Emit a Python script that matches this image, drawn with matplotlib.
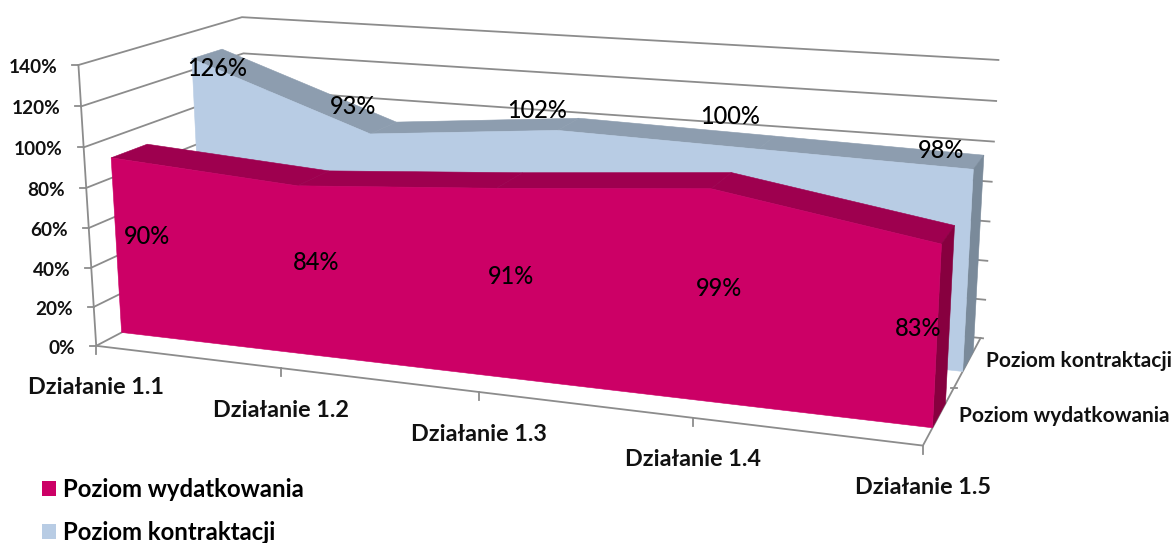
"""
Excel-style 3D area chart: two series one behind the other, drawn on a plain
2D axes through a projective camera fitted to the corners of the plot box.
"""
import matplotlib
matplotlib.use("Agg")
import matplotlib.pyplot as plt
import numpy as np
from matplotlib.patches import Patch, Polygon

plt.rcParams["font.family"] = ["Lato", "DejaVu Sans"]

CATEGORIES = ["Działanie 1.1", "Działanie 1.2", "Działanie 1.3", "Działanie 1.4", "Działanie 1.5"]
SERIES_NAMES = ["Poziom wydatkowania", "Poziom kontraktacji"]
WYDATKOWANIE = [90, 84, 91, 99, 83]
KONTRAKTACJA = [126, 93, 102, 100, 98]
VALUE_TICKS = [0, 20, 40, 60, 80, 100, 120, 140]

# label anchors in figure pixels, Excel places them freely
RED_LABEL_XY = [(147, 236), (316, 262), (511, 276), (719, 288), (918, 329)]
BLUE_LABEL_XY = [(217, 68), (353, 107), (537, 111), (730, 116), (941, 151)]

RED = {"front": "#CC0066", "top": "#9E004F", "side": "#87003F"}
BLUE = {"front": "#B8CCE4", "top": "#8D9DAF", "side": "#7A8A9A"}
GRID = "#8C8C8C"

# camera: (x 0..1, value, depth 0..1) -> pixel
ANCHORS = [
    ((0, 0, 0), (95, 343)),
    ((0, 140, 0), (79, 66)),
    ((0, 120, 0), (82, 107)),
    ((0, 140, 1), (241, 16)),
    ((0, 120, 1), (243, 52)),
    ((0, 0, 1), (254, 267)),
    ((1, 140, 1), (996, 61)),
    ((1, 0, 1), (980, 336)),
    ((1, 0, 0), (924, 445)),
    ((0.25, 0, 0), (281, 368)),
    ((0.5, 0, 0), (478, 392)),
    ((0.75, 0, 0), (693, 420)),
]


def fit_camera(anchors):
    rows, rhs = [], []
    for (x, v, z), (u, w) in anchors:
        rows.append([x, v, z, 1, 0, 0, 0, 0, -u * x, -u * v, -u * z])
        rows.append([0, 0, 0, 0, x, v, z, 1, -w * x, -w * v, -w * z])
        rhs += [u, w]
    sol = np.linalg.lstsq(np.array(rows, float), np.array(rhs, float), rcond=None)[0]
    return np.append(sol, 1.0).reshape(3, 4)


CAM = fit_camera(ANCHORS)


def project(x, v, z):
    p = CAM @ np.array([x, v, z, 1.0])
    return p[0] / p[2], p[1] / p[2]


def draw_area(ax, values, z0, z1, colors, zorder):
    xs = np.linspace(0, 1, len(values))
    # top faces, segment by segment
    for i in range(len(values) - 1):
        quad = [project(xs[i], values[i], z0), project(xs[i + 1], values[i + 1], z0),
                project(xs[i + 1], values[i + 1], z1), project(xs[i], values[i], z1)]
        ax.add_patch(Polygon(quad, closed=True, fc=colors["top"], ec=colors["top"], lw=0.4, zorder=zorder))
    # right end
    side = [project(1, values[-1], z0), project(1, values[-1], z1), project(1, 0, z1), project(1, 0, z0)]
    ax.add_patch(Polygon(side, closed=True, fc=colors["side"], ec=colors["side"], lw=0.4, zorder=zorder))
    # front face
    front = [project(x, v, z0) for x, v in zip(xs, values)] + [project(1, 0, z0), project(0, 0, z0)]
    ax.add_patch(Polygon(front, closed=True, fc=colors["front"], ec=colors["front"], lw=0.4, zorder=zorder + 0.1))


fig = plt.figure(figsize=(11.76, 5.43), dpi=100)
ax = fig.add_axes([0, 0, 1, 1])
ax.set_xlim(0, 1176)
ax.set_ylim(543, 0)
ax.axis("off")

# walls: gridlines run along the left wall then along the back wall
for v in VALUE_TICKS:
    pts = [project(0, v, 0), project(0, v, 1), project(1.003, v, 1)]
    ax.plot(*zip(*pts), color=GRID, lw=1.3, zorder=1, solid_joinstyle="miter")
    fx, fy = project(0, v, 0)
    ax.plot([fx - 6, fx], [fy, fy], color=GRID, lw=1.3, zorder=1)
    ax.text(fx - 21, fy + 2.5, f"{v}%", ha="right", va="center", fontsize=13.7, fontweight="bold", color="#111111")

ax.plot(*zip(project(0, 0, 0), project(0, 140, 0)), color=GRID, lw=1.3, zorder=1)

# floor edges and ticks
ax.plot(*zip(project(0, 0, 0), project(1, 0, 0), project(1, 0, 1)), color=GRID, lw=1.3, zorder=1)
for i, name in enumerate(CATEGORIES):
    tx, ty = project(i / (len(CATEGORIES) - 1), 0, 0)
    ax.plot([tx, tx], [ty, ty + 8], color=GRID, lw=1.3, zorder=1)
    ax.text(tx, ty + 42, name, ha="center", va="center", fontsize=16.8, fontweight="bold", color="#111111")
mx, my = project(1, 0, 0.5)
ax.plot([mx - 3, mx + 3], [my, my], color=GRID, lw=1.3, zorder=1)

draw_area(ax, KONTRAKTACJA, 0.655, 0.855, BLUE, 2)
draw_area(ax, WYDATKOWANIE, 0.145, 0.355, RED, 3)

for v, (lx, ly) in zip(WYDATKOWANIE, RED_LABEL_XY):
    ax.text(lx, ly, f"{v}%", ha="center", va="center", fontsize=17, fontweight="medium", color="black", zorder=5)
for v, (lx, ly) in zip(KONTRAKTACJA, BLUE_LABEL_XY):
    ax.text(lx, ly, f"{v}%", ha="center", va="center", fontsize=17, fontweight="medium", color="black", zorder=5)

ax.text(986, 361, SERIES_NAMES[1], ha="left", va="center", fontsize=15, fontweight="bold", color="#111111")
ax.text(959, 416, SERIES_NAMES[0], ha="left", va="center", fontsize=15, fontweight="bold", color="#111111")

handles = [Patch(fc=RED["front"], label=SERIES_NAMES[0]), Patch(fc=BLUE["front"], label=SERIES_NAMES[1])]
ax.legend(handles=handles, loc="lower left", bbox_to_anchor=(0.0355, -0.002), frameon=False,
          prop={"size": 17.2, "weight": "bold"}, handlelength=0.6, handleheight=0.6,
          handletextpad=0.3, labelspacing=0.85, borderpad=0, borderaxespad=0)

fig.savefig("out.png", dpi=100)
